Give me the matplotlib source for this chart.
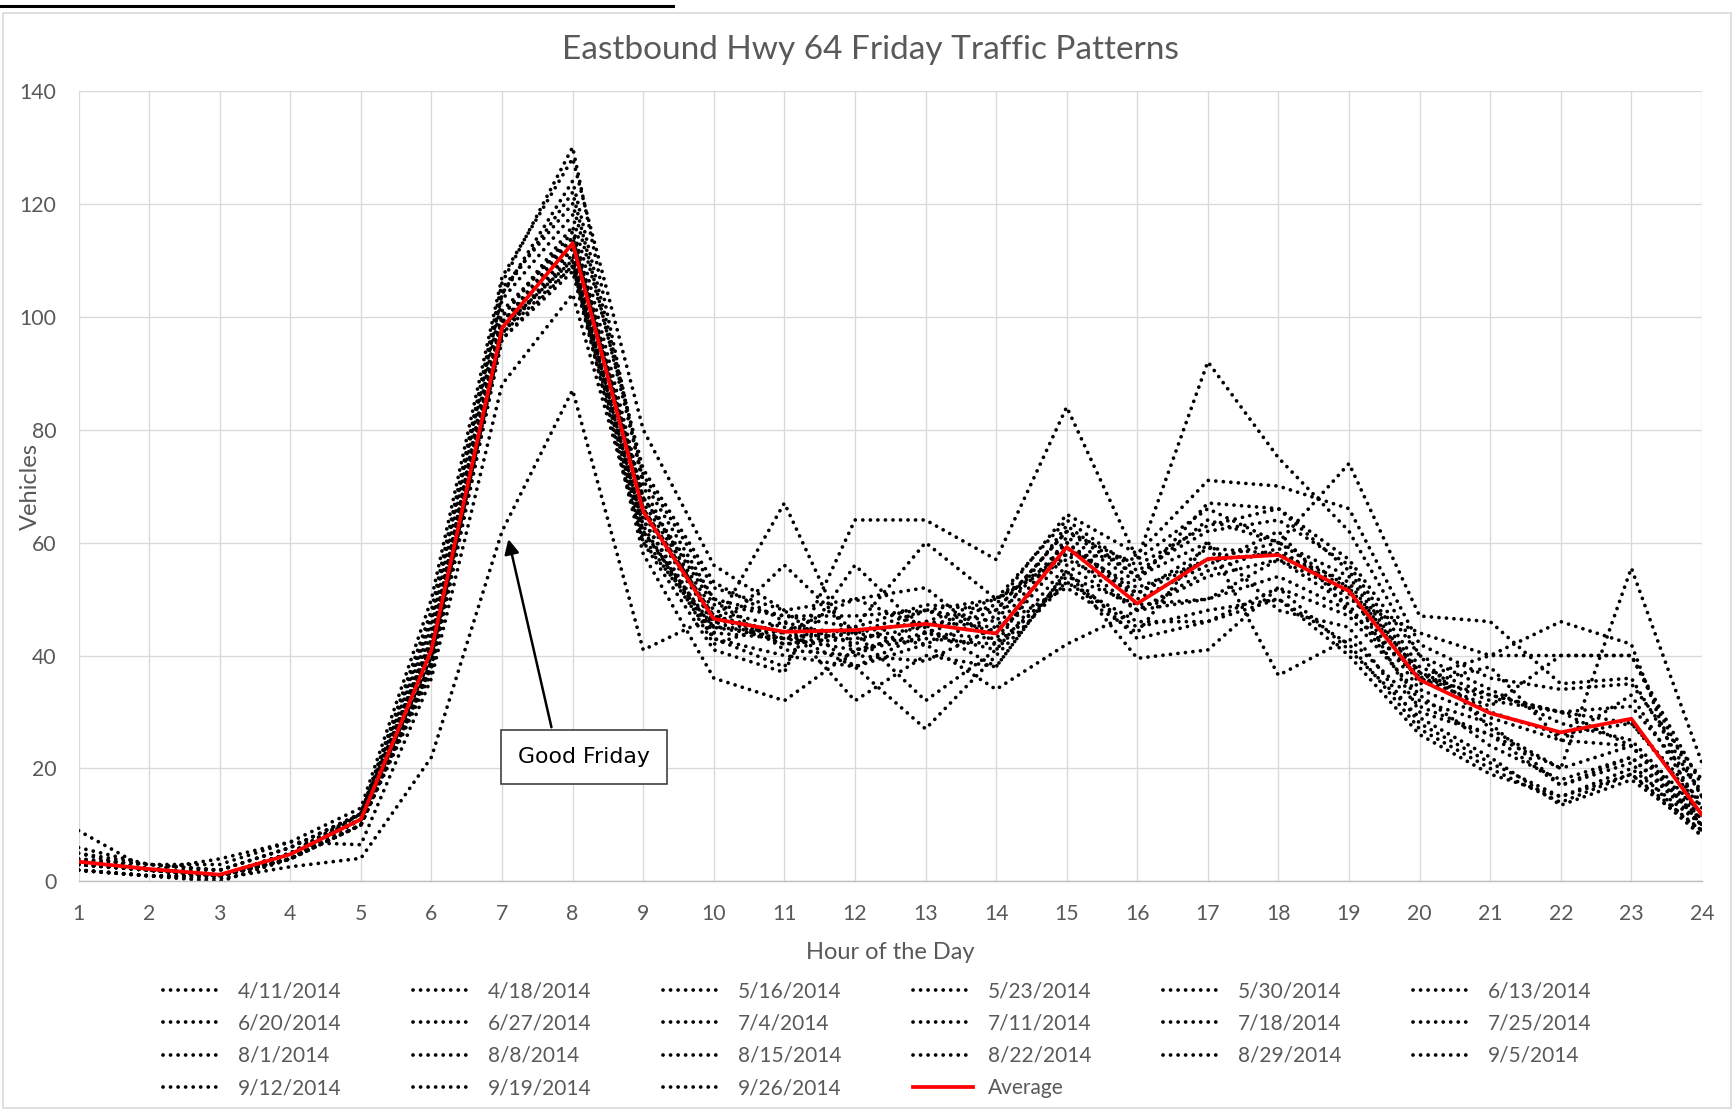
import matplotlib.pyplot as plt
from matplotlib.patches import Rectangle
from matplotlib.lines import Line2D

plt.rcParams['font.family'] = ['Lato', 'DejaVu Sans']

hours = list(range(1, 25))

# hourly counts, one list per Friday
d_0411 = [5, 2, 1, 4, 12, 45, 104, 124, 72, 52, 48, 38, 44, 48, 62, 54, 64, 60, 52, 30, 26, 17, 22, 10]
d_0418 = [2, 1, 0.5, 2.6, 4.1, 22, 62, 87, 41, 47, 44, 38, 42, 34, 42, 48, 50, 54, 48, 36, 33, 30, 28, 13]
d_0516 = [3, 2, 1, 5, 12, 42, 103, 118, 68, 50, 41, 40, 39, 45, 52, 44, 60, 48, 45, 28, 21, 15, 19, 8]
d_0523 = [4, 3, 2, 6, 12, 46, 106, 130, 70, 45, 67, 40, 46, 50, 64, 55, 62, 64, 56, 38, 33, 30, 31, 16]
d_0530 = [6, 3, 3, 7, 13, 50, 107, 128, 80, 56, 48, 50, 45, 49, 65, 58, 71, 70, 66, 42, 36, 34, 35, 18]
d_0613 = [3, 2, 1, 5, 11, 44, 100, 116, 66, 47, 42, 44, 48, 50, 58, 57, 92, 75, 62, 40, 34, 28, 25, 12]
d_0620 = [2, 1, 0, 4, 10, 38, 99, 112, 64, 43, 40, 38, 27, 40, 53, 45, 48, 50, 42, 27, 20, 14, 19, 9]
d_0627 = [3, 2, 1, 5, 11, 40, 98, 110, 63, 42, 46, 32, 40, 38, 55, 43, 46, 52, 41, 29, 22, 13.5, 18, 9]
d_0704 = [9, 2, 4, 7, 6.5, 36, 88, 104, 60, 41, 37, 64, 64, 57, 84, 57, 66, 60, 54, 36, 31, 40, 40, 17]
d_0711 = [4, 2, 1, 5, 12, 43, 101, 114, 65, 46, 42, 43, 45, 38, 55, 39.5, 41, 52, 47, 33, 24, 18, 22, 11]
d_0718 = [3, 2, 1, 4, 11, 40, 97, 111, 62, 44, 56, 44, 42, 47, 60, 51, 57, 58, 53, 35, 38, 25, 33, 13]
d_0725 = [2, 1, 1, 4, 10, 37, 96, 108, 60, 45, 44, 50, 52, 42, 61, 53, 67, 66, 55, 37, 30, 26, 28, 14]
d_0801 = [3, 2, 1, 5, 11, 41, 99, 113, 68, 49, 47, 47, 48, 44, 59, 52, 57, 60, 74, 47, 46, 35, 36, 15]
d_0808 = [4, 2, 2, 6, 12, 48, 105, 120, 73, 53, 46, 42, 48, 46, 63, 54, 60, 36.5, 43, 31, 26, 20, 24, 11]
d_0815 = [2, 1, 0, 4, 10, 39, 97, 109, 61, 43, 38, 56, 44, 41, 54, 49, 50, 57, 51, 34, 29, 25, 24, 10]
d_0822 = [3, 2, 1, 5, 11, 42, 100, 115, 67, 48, 45, 44, 46, 45, 60, 50, 56, 62, 48, 36, 40, 46, 42, 9]
d_0829 = [5, 3, 2, 6, 12, 47, 104, 122, 71, 50, 47, 45, 49, 48, 62, 56, 63, 66, 57, 40, 27, 20, 55.5, 21]
d_0905 = [3, 2, 1, 4, 10, 39, 98, 110, 62, 45, 43, 41, 44, 43, 58, 48, 55, 59, 50, 44, 40, 40, 40, 15]
d_0912 = [2, 1, 1, 4, 11, 40, 97, 112, 64, 44, 43, 45, 60, 50, 57, 51, 59, 58, 52, 37, 32, 30, 24, 12]
d_0919 = [3, 2, 1, 5, 11, 42, 99, 114, 66, 47, 43, 44, 32, 41, 56, 48, 54, 57, 49, 32, 28, 17, 21, 8]
d_0926 = [2, 1, 1, 4, 10, 38, 96, 109, 58, 36, 32, 41, 43, 42, 53, 46, 46, 50, 40, 26, 19, 15, 20, 10]

average = [3.5, 2.2, 1.2, 4.8, 11, 41, 98, 113, 65.5, 46.5, 44.2, 44.5, 45.6, 43.9,
           59.2, 49.2, 57.1, 57.8, 51.4, 35.7, 29.8, 26.4, 28.8, 11.8]

dates = ['4/11/2014', '4/18/2014', '5/16/2014', '5/23/2014', '5/30/2014', '6/13/2014',
         '6/20/2014', '6/27/2014', '7/4/2014', '7/11/2014', '7/18/2014', '7/25/2014',
         '8/1/2014', '8/8/2014', '8/15/2014', '8/22/2014', '8/29/2014', '9/5/2014',
         '9/12/2014', '9/19/2014', '9/26/2014']
fridays = [d_0411, d_0418, d_0516, d_0523, d_0530, d_0613, d_0620, d_0627, d_0704,
           d_0711, d_0718, d_0725, d_0801, d_0808, d_0815, d_0822, d_0829, d_0905,
           d_0912, d_0919, d_0926]

gray = '#595959'
fig = plt.figure(figsize=(17.34, 11.10), dpi=100)
ax = fig.add_axes([0.0453, 0.2059, 0.9362, 0.7124])

dotted = (0, (0.01, 2.0))
for vals, lab in zip(fridays, dates):
    ax.plot(hours, vals, color='black', lw=2.7, linestyle=dotted,
            dash_capstyle='round', label=lab)
ax.plot(hours, average, color='#ff0000', lw=2.7, label='Average', zorder=5)

ax.set_xlim(1, 24)
ax.set_ylim(0, 140)
ax.set_xticks(hours)
ax.set_yticks(range(0, 141, 20))
ax.grid(True, color='#d9d9d9', lw=0.95)
ax.set_axisbelow(True)
for s in ['left', 'right', 'top']:
    ax.spines[s].set_visible(False)
ax.spines['bottom'].set_color('#bfbfbf')
ax.spines['bottom'].set_linewidth(1.0)
ax.tick_params(length=0, labelsize=15.3, colors=gray, pad=16)

ax.set_xlabel('Hour of the Day', fontsize=17, color=gray, labelpad=13)
ax.set_ylabel('Vehicles', fontsize=17, color=gray)
ax.yaxis.set_label_coords(-0.023, 0.5)
fig.text(0.502, 0.955, 'Eastbound Hwy 64 Friday Traffic Patterns', fontsize=24,
         color=gray, ha='center', va='center')

# Good Friday callout
ax.text(8.16, 22.0, 'Good Friday', fontsize=15.8, family='DejaVu Sans', ha='center',
        va='center', bbox=dict(boxstyle='square,pad=0.78', fc='white', ec='#404040', lw=1.2),
        zorder=6)
ax.annotate('', xy=(7.09, 60.6), xytext=(7.70, 27.3),
            arrowprops=dict(arrowstyle='-|>', color='black', lw=1.8, mutation_scale=22,
                            shrinkA=0, shrinkB=0), zorder=6)

# legend laid out row by row across six columns
handles, labels = ax.get_legend_handles_labels()
n = len(handles)
order = [r * 6 + c for c in range(6) for r in range(4) if r * 6 + c < n]
fig.legend([handles[i] for i in order], [labels[i] for i in order], ncol=6,
           loc='upper left', bbox_to_anchor=(0.0938, 0.116), frameon=False,
           fontsize=15, labelcolor=gray, handlelength=2.9, handletextpad=0.7,
           columnspacing=3.43, labelspacing=0.59, borderpad=0, borderaxespad=0)

# chart border and the rule above it
fig.patches.append(Rectangle((0.002, 0.002), 0.996, 0.986, transform=fig.transFigure,
                             fill=False, ec='#d9d9d9', lw=1.2))
fig.lines.append(Line2D([0, 0.388], [0.995, 0.995], transform=fig.transFigure,
                        color='black', lw=2.2))

fig.savefig('out.png', dpi=100)
